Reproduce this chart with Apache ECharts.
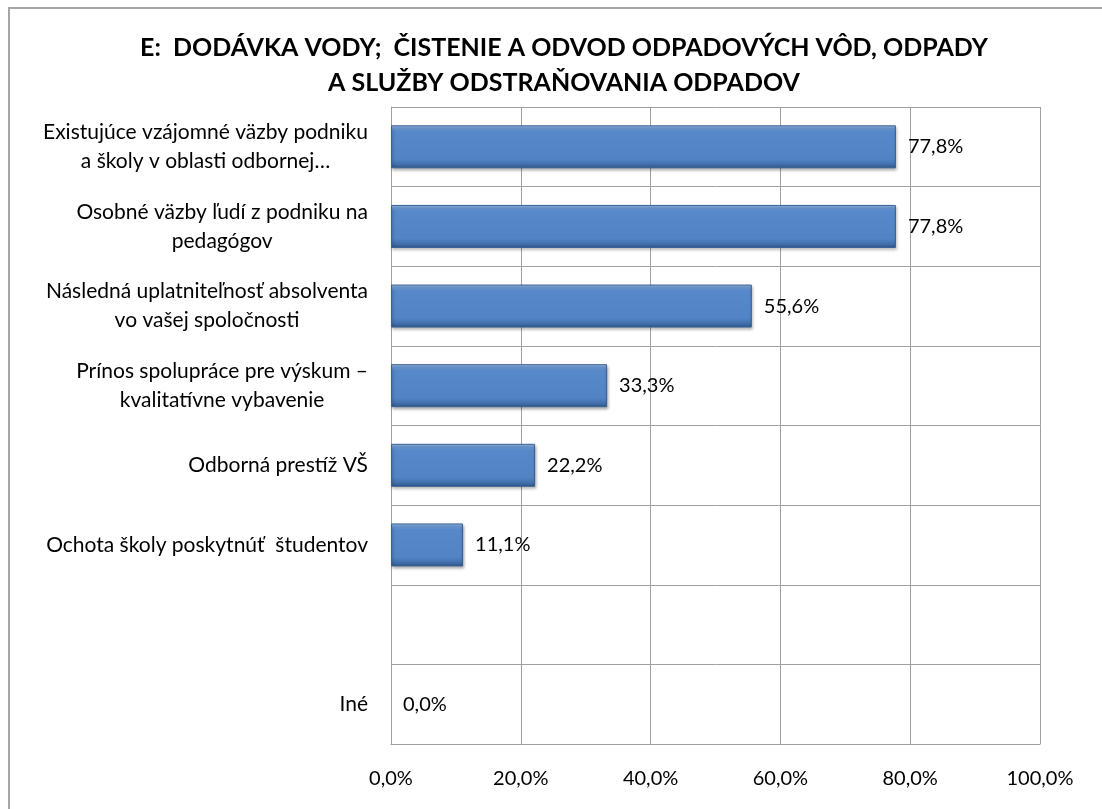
<!DOCTYPE html>
<html>
<head>
<meta charset="utf-8">
<script src="https://cdn.jsdelivr.net/npm/echarts@6/dist/echarts.min.js"></script>
<style>
  html, body { margin: 0; padding: 0; background: #fff; }
  #chart { width: 1102px; height: 809px; }
</style>
</head>
<body>
<div id="chart"></div>
<script>
// kategórie (zhora nadol)
const categories = [
  'Existujúce vzájomné väzby podniku\na školy v oblasti odbornej…',
  'Osobné väzby ľudí z podniku na\npedagógov',
  'Následná uplatniteľnosť absolventa\nvo vašej spoločnosti',
  'Prínos spolupráce pre výskum –\nkvalitatívne vybavenie',
  'Odborná prestíž VŠ',
  'Ochota školy poskytnúť  študentov',
  '',
  'Iné'
]
// hodnoty v %
const values = [77.8, 77.8, 55.6, 33.3, 22.2, 11.1, null, 0.0]
const tickValues = [0, 20, 40, 60, 80, 100]

const fmt = (v) => v.toFixed(1).replace('.', ',') + '%'
const font = 'Lato, "Open Sans", sans-serif'

const chart = echarts.init(document.getElementById('chart'))

// nulový stĺpec bez okraja (v origináli nie je vidieť)
const barData = values.map(v => v === 0
  ? { value: v, itemStyle: { borderWidth: 0, shadowBlur: 0, shadowOffsetX: 0, shadowOffsetY: 0, opacity: 0 } }
  : v)

const option = {
  animation: false,
  title: {
    text: 'E:  DODÁVKA VODY;  ČISTENIE A ODVOD ODPADOVÝCH VÔD, ODPADY\nA SLUŽBY ODSTRAŇOVANIA ODPADOV',
    left: 559,
    textAlign: 'center',
    top: 25,
    textStyle: {
      fontFamily: font,
      fontSize: 25,
      fontWeight: 'bold',
      color: '#000',
      lineHeight: 35
    }
  },
  graphic: [
    {
      type: 'rect',
      shape: { x: 9, y: 8, width: 1110, height: 820 },
      style: { fill: 'none', stroke: '#a6a6a6', lineWidth: 2 },
      silent: true
    }
  ],
  grid: {
    left: 391,
    right: 62,
    top: 107,
    bottom: 65
  },
  xAxis: {
    type: 'value',
    min: 0,
    max: 100,
    interval: 20,
    axisLine: { show: true, lineStyle: { color: '#a0a0a0' } },
    axisTick: { show: false },
    splitLine: { show: true, lineStyle: { color: '#a0a0a0', width: 1 } },
    axisLabel: {
      formatter: (v) => tickValues.includes(v) ? fmt(v) : '',
      fontFamily: font,
      fontSize: 20,
      color: '#000',
      margin: 25
    }
  },
  yAxis: {
    type: 'category',
    inverse: true,
    data: categories,
    axisLine: { show: true, lineStyle: { color: '#a0a0a0' } },
    axisTick: { show: false },
    splitLine: { show: true, lineStyle: { color: '#a0a0a0', width: 1 } },
    axisLabel: {
      margin: 23,
      align: 'right',
      formatter: (v) => v ? v.split('\n').map(s => '{c|' + s + '}').join('\n') : '',
      rich: {
        c: {
          align: 'center',
          fontFamily: font,
          fontSize: 21,
          color: '#000',
          lineHeight: 29
        }
      }
    }
  },
  series: [
    {
      type: 'bar',
      data: barData,
      barCategoryGap: '46%',
      itemStyle: {
        color: new echarts.graphic.LinearGradient(0, 0, 0, 1, [
          { offset: 0, color: '#9cc0ec' },
          { offset: 0.08, color: '#6c9ad6' },
          { offset: 0.15, color: '#5688ca' },
          { offset: 0.78, color: '#5284c5' },
          { offset: 0.9, color: '#4371ad' },
          { offset: 1, color: '#2c568a' }
        ]),
        borderColor: '#3a6193',
        borderWidth: 1,
        shadowColor: 'rgba(0,0,0,0.35)',
        shadowBlur: 3,
        shadowOffsetX: 1,
        shadowOffsetY: 2
      },
      label: {
        show: true,
        position: 'right',
        distance: 12,
        formatter: (p) => p.value == null ? '' : fmt(p.value),
        fontFamily: font,
        fontSize: 20,
        color: '#000',
        opacity: 1
      }
    }
  ]
}

chart.setOption(option)
</script>
</body>
</html>
